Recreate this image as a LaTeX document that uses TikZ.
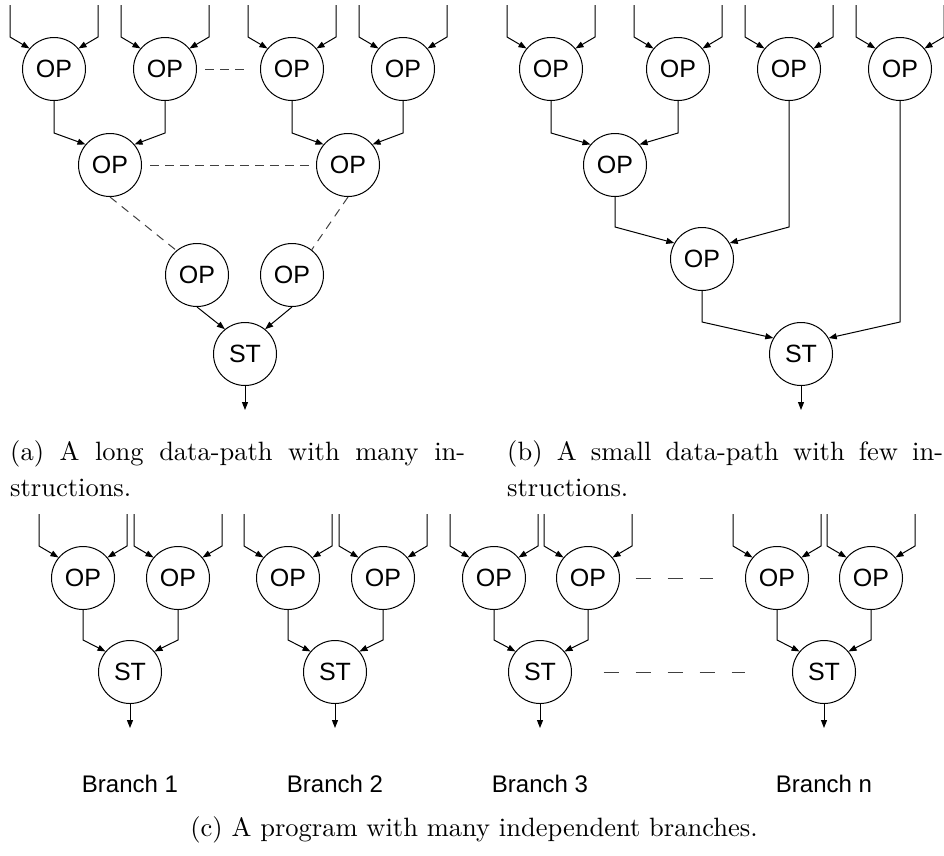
\documentclass[tikz,border=0pt]{standalone}
\usepackage{fontspec}
\usepackage{graphicx}
\newfontfamily\labelfont{Liberation Sans}
\usetikzlibrary{arrows.meta,calc}
\newcommand\capsize{\fontsize{10}{12}\selectfont}
\begin{document}
\begin{tikzpicture}[x=1pt,y=-1pt,
  opnode/.style={circle,draw,line width=1pt,minimum size=63pt,inner sep=0pt,
                 font=\labelfont\fontsize{25}{29}\selectfont},
  flow/.style={line width=1pt,-{Triangle[length=8pt,width=6pt]}},
  gap/.style={line width=1pt,dash pattern=on 8.5pt off 6.5pt,black!75},
  widegap/.style={line width=1pt,dash pattern=on 15pt off 17pt,black!75},
  tag/.style={font=\labelfont\fontsize{24}{28}\selectfont,anchor=base,inner sep=0pt},
  captext/.style={anchor=base west,inner sep=0pt}]
\useasboundingbox (0,0) rectangle (944,855);

% ---------- (a) long data-path ----------
\node[opnode] (a1) at (54,69) {OP};
\node[opnode] (a2) at (165,69) {OP};
\node[opnode] (a3) at (292,69) {OP};
\node[opnode] (a4) at (403,69) {OP};
\node[opnode] (am1) at (110,165) {OP};
\node[opnode] (am2) at (348,165) {OP};
\node[opnode] (al1) at (197,275) {OP};
\node[opnode] (al2) at (292,275) {OP};
\node[opnode] (ast) at (245,354) {ST};

% ---------- (b) small data-path ----------
\node[opnode] (b1) at (551,69) {OP};
\node[opnode] (b2) at (678,69) {OP};
\node[opnode] (b3) at (789,69) {OP};
\node[opnode] (b4) at (900,69) {OP};
\node[opnode] (bm) at (615,165) {OP};
\node[opnode] (bt) at (702,259) {OP};
\node[opnode] (bst) at (801,354) {ST};

% ---------- (c) independent branches ----------
\node[opnode] (c1) at (83,578) {OP};
\node[opnode] (c2) at (178,578) {OP};
\node[opnode] (cs1) at (130,672) {ST};
\node[opnode] (c3) at (288,578) {OP};
\node[opnode] (c4) at (383,578) {OP};
\node[opnode] (cs2) at (335,672) {ST};
\node[opnode] (c5) at (494,578) {OP};
\node[opnode] (c6) at (588,578) {OP};
\node[opnode] (cs3) at (540,672) {ST};
\node[opnode] (c7) at (777,578) {OP};
\node[opnode] (c8) at (871,578) {OP};
\node[opnode] (cs4) at (824,672) {ST};

% two operand inputs entering every OP from above
\foreach \n in {a1,a2,a3,a4,b1,b2,b3,b4,c1,c2,c3,c4,c5,c6,c7,c8}{
  \draw[flow] ($(\n.north)+(-44,-32)$) -- ++(0,32) -- (\n.140);
  \draw[flow] ($(\n.north)+(44,-32)$) -- ++(0,32) -- (\n.40);
}

% data-flow links: straight down, then into the consumer
\foreach \s/\t/\ang in {a1/am1/140,a2/am1/40,a3/am2/140,a4/am2/40,
                       b1/bm/140,b2/bm/40,bm/bt/150,b3/bt/30,bt/bst/150,b4/bst/30,
                       c1/cs1/140,c2/cs1/40,c3/cs2/140,c4/cs2/40,
                       c5/cs3/140,c6/cs3/40,c7/cs4/140,c8/cs4/40}{
  \draw[flow] (\s.south) -- (\s.south |- \t.north) -- (\t.\ang);
}
\draw[flow] (al1.south) -- (ast.129);
\draw[flow] (al2.south) -- (ast.51);

% results leaving the stores
\foreach \n in {ast,bst,cs1,cs2,cs3,cs4}{
  \draw[flow] (\n.south) -- ++(0,24);
}

% elided parts
\draw[gap,shorten <=8pt,shorten >=15pt] (a2.east) -- (a3.west);
\draw[gap,shorten <=8pt,shorten >=3pt] (am1.east) -- (am2.west);
\draw[gap] (am1.south) -- (al1.130);
\draw[gap] (am2.south) -- (al2.52);
\draw[widegap,shorten <=15.5pt,shorten >=32.5pt] (c6.east) -- (c7.west);
\draw[widegap,shorten <=31.5pt,shorten >=47.5pt] (cs3.east) -- (cs4.west);

% branch names
\node[tag] (n1) at (130,792) {Branch 1};
\node[tag] (n2) at (335,792) {Branch 2};
\node[tag] (n3) at (540,792) {Branch 3};
\node[tag] (n4) at (824,792) {Branch n};

% captions
\node[captext] (capa1) at (10,460) {\scalebox{2.65}{\capsize\makebox[171.7pt][s]{(a) A long data-path with many in-}}};
\node[captext] (capa2) at (10,496) {\scalebox{2.65}{\capsize structions.}};
\node[captext] (capb1) at (507,460) {\scalebox{2.65}{\capsize\makebox[164.5pt][s]{(b) A small data-path with few in-}}};
\node[captext] (capb2) at (507,496) {\scalebox{2.65}{\capsize structions.}};
\node[anchor=base,inner sep=0pt] (capc) at (474,836) {\scalebox{2.65}{\capsize (c) A program with many independent branches.}};
\end{tikzpicture}
\end{document}
